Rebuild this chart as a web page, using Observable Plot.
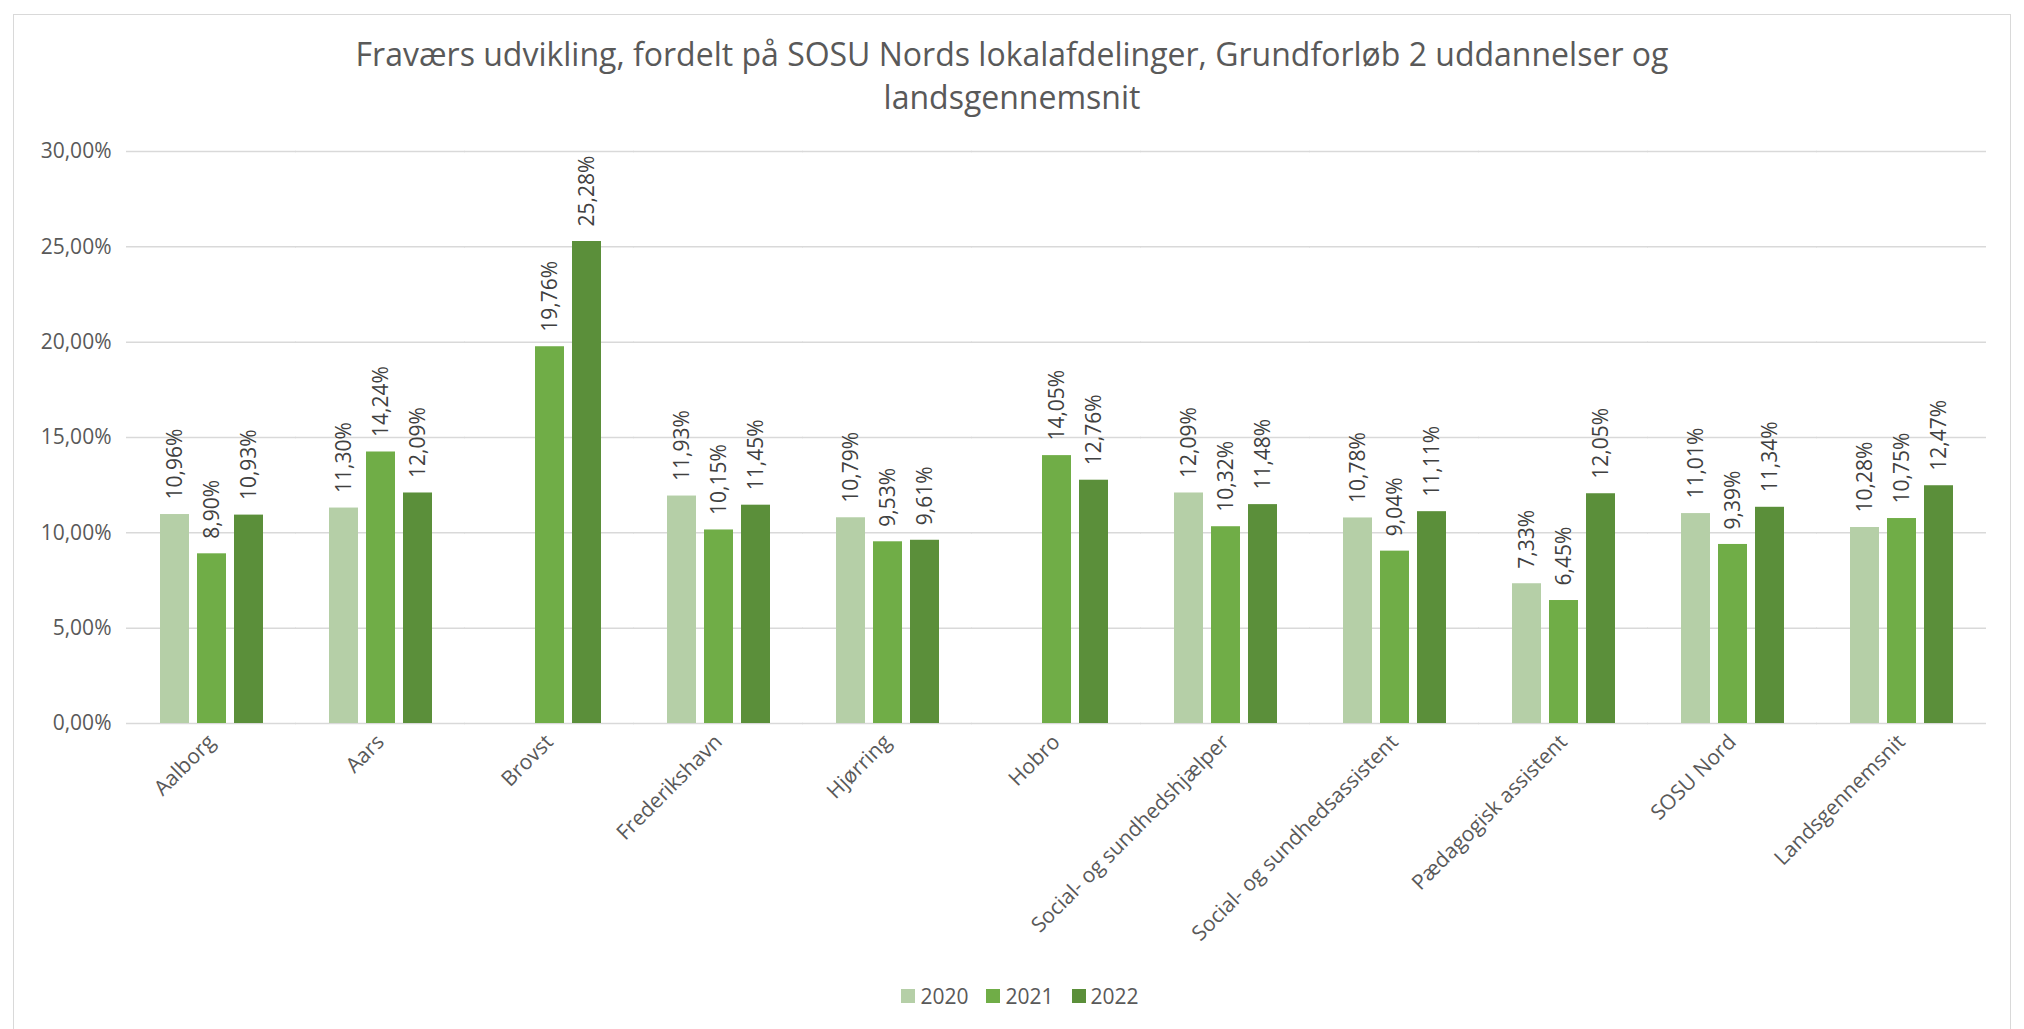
<!DOCTYPE html>
<html>
<head>
<meta charset="utf-8">
<script src="https://cdn.jsdelivr.net/npm/d3@7"></script>
<script src="https://cdn.jsdelivr.net/npm/@observablehq/plot@0.6"></script>
<style>
  html, body { margin: 0; padding: 0; background: #fff; }
  body { width: 2024px; height: 1029px; position: relative; overflow: hidden; font-family: "Open Sans", sans-serif; }
  #frame { position: absolute; left: 13px; top: 14px; width: 1998px; height: 1100px; border: 1.5px solid #D9D9D9; box-sizing: border-box; }
  #title { position: absolute; left: 13px; width: 1998px; top: 32px; text-align: center; font-size: 32px; line-height: 43px; color: #595959; }
  #chart { position: absolute; left: 0; top: 120px; }
  #legend { position: absolute; left: 0; width: 2024px; top: 982px; height: 28px; display: flex; justify-content: center; align-items: center; font-size: 21px; color: #595959; padding-left: 16px; box-sizing: border-box; }
  .item { display: flex; align-items: center; margin: 0 9px; }
  .sw { width: 14px; height: 14px; margin-right: 5px; }
</style>
</head>
<body>
<div id="frame"></div>
<div id="title">Fraværs udvikling, fordelt på SOSU Nords lokalafdelinger, Grundforløb 2 uddannelser og<br>landsgennemsnit</div>
<div id="chart"></div>
<div id="legend"></div>
<script>
const categories = ["Aalborg", "Aars", "Brovst", "Frederikshavn", "Hjørring", "Hobro",
  "Social- og sundhedshjælper", "Social- og sundhedsassistent", "Pædagogisk assistent",
  "SOSU Nord", "Landsgennemsnit"];
const years = ["2020", "2021", "2022"];
const values2020 = [10.96, 11.30, null, 11.93, 10.79, null, 12.09, 10.78, 7.33, 11.01, 10.28];
const values2021 = [8.90, 14.24, 19.76, 10.15, 9.53, 14.05, 10.32, 9.04, 6.45, 9.39, 10.75];
const values2022 = [10.93, 12.09, 25.28, 11.45, 9.61, 12.76, 11.48, 11.11, 12.05, 11.34, 12.47];
const yTicks = [0, 5, 10, 15, 20, 25, 30];
const colors = ["#B5CFA7", "#70AD47", "#5B8F3A"];

const series = [values2020, values2021, values2022];
const table = [];
categories.forEach((c, i) => {
  years.forEach((y, j) => {
    const v = series[j][i];
    if (v != null) table.push({category: c, year: y, value: v});
  });
});
const fmt = d => d.toFixed(2).replace(".", ",") + "%";

function build(superFacet) {
  const grid = superFacet
    ? Plot.ruleY(yTicks, {stroke: "#D9D9D9", strokeWidth: 1.5, facet: "super"})
    : Plot.ruleY(yTicks, {stroke: "#D9D9D9", strokeWidth: 1.5, insetLeft: -33, insetRight: -33});
  return Plot.plot({
    width: 2024, height: 840,
    marginTop: 31, marginBottom: 237, marginLeft: 125, marginRight: 36,
    style: {fontFamily: "Open Sans", fontSize: "21px", color: "#595959", background: "transparent", overflow: "visible"},
    fx: {domain: categories, paddingInner: 0.384, paddingOuter: 0.192, label: null, tickRotate: -45, tickSize: 0, tickPadding: 15},
    x: {domain: years, paddingInner: 0.22, paddingOuter: 0, axis: null},
    y: {domain: [0, 30], ticks: yTicks, tickFormat: fmt, tickSize: 0, tickPadding: 48, label: null},
    color: {domain: years, range: colors},
    marks: [
      grid,
      Plot.barY(table, {fx: "category", x: "year", y: "value", fill: "year"}),
      Plot.text(table, {fx: "category", x: "year", y: "value", text: d => fmt(d.value),
        rotate: -90, textAnchor: "start", dy: -15, fill: "#404040", fontSize: 21})
    ]
  });
}
let chart;
try { chart = build(true); } catch (e) { chart = build(false); }
document.getElementById("chart").appendChild(chart);

const legend = document.getElementById("legend");
years.forEach((y, j) => {
  const it = document.createElement("div");
  it.className = "item";
  it.innerHTML = `<div class="sw" style="background:${colors[j]}"></div><span>${y}</span>`;
  legend.appendChild(it);
});
</script>
</body>
</html>
